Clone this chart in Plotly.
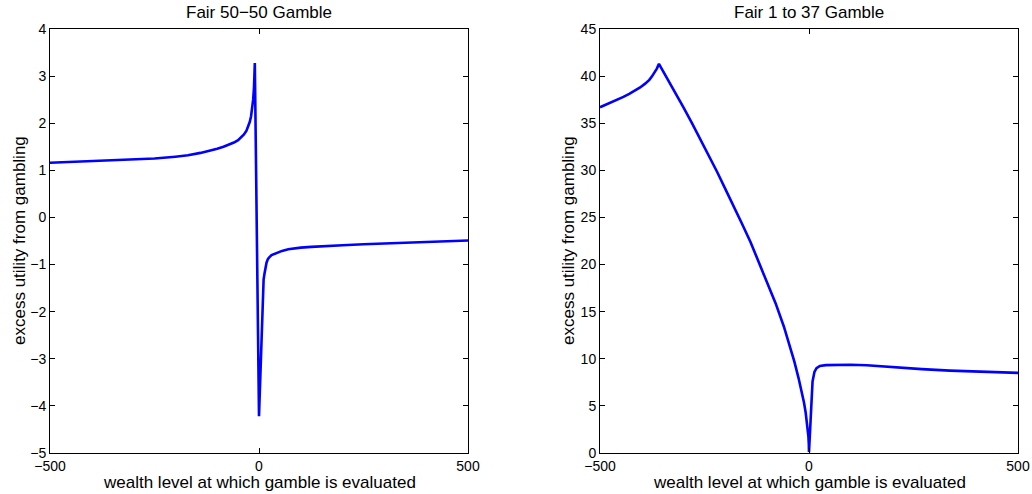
import plotly.graph_objects as go

# Left panel: Fair 50-50 gamble
x_left = [-500, -450, -400, -350, -300, -250, -200, -170, -140, -120, -100, -85, -70, -60, -50, -42, -36, -30, -26, -22,
          -19, -16, -14, -12, -11, -10,
          0, 9, 11, 13, 15, 18, 21, 24, 30, 40, 55, 70, 85, 100, 125, 150, 200, 250, 300, 350, 400, 450, 500]
y_left = [1.16, 1.175, 1.19, 1.205, 1.225, 1.25, 1.29, 1.32, 1.37, 1.41, 1.46, 1.50, 1.55, 1.59, 1.64, 1.70, 1.76, 1.84, 1.92, 2.03,
          2.15, 2.32, 2.50, 2.75, 2.95, 3.28,
          -4.22, -1.47, -1.32, -1.20, -1.08, -0.96, -0.89, -0.85, -0.80, -0.76, -0.71, -0.675, -0.655, -0.64, -0.625, -0.61, -0.59, -0.57, -0.55, -0.535, -0.52, -0.505, -0.49]

# Right panel: Fair 1 to 37 gamble
x_right = [-500, -480, -460, -444, -430, -416, -404, -392, -382, -376, -370, -364, -359,
           -340, -320, -300, -280, -260, -240, -220, -200, -180, -160, -140, -120, -100, -80, -60, -45, -35, -25, -18,
           -12, -8, -5, -3, -1.5, -0.5, 0,
           8.5, 10.5, 13, 18, 26, 40, 66, 100, 138, 170, 202, 270, 337, 420, 500]
y_right = [36.7, 37.08, 37.48, 37.8, 38.12, 38.47, 38.8, 39.2, 39.6, 39.95, 40.35, 40.8, 41.3,
           39.85, 38.25, 36.65, 35.0, 33.3, 31.6, 29.85, 28.0, 26.2, 24.3, 22.4, 20.3, 18.2, 15.9, 13.4, 11.3, 9.7, 7.95, 6.6,
           5.35, 4.3, 3.35, 2.55, 1.8, 1.0, 0.1,
           7.6, 8.2, 8.6, 9.0, 9.24, 9.33, 9.37, 9.36, 9.31, 9.2, 9.06, 8.9, 8.74, 8.6, 8.5]

titles = ["Fair 50\u221250 Gamble", "Fair 1 to 37 Gamble"]
x_label = "wealth level at which gamble is evaluated"
y_label = "excess utility from gambling"
x_ticks = [-500, 0, 500]
y_ticks_left = [-5, -4, -3, -2, -1, 0, 1, 2, 3, 4]
y_ticks_right = [0, 5, 10, 15, 20, 25, 30, 35, 40, 45]

W, H = 1032, 494
FONT = "Liberation Sans, Arial, Helvetica, sans-serif"

fig = go.Figure()
fig.add_trace(go.Scatter(x=x_left, y=y_left, mode="lines", line=dict(color="#0000FF", width=2.6),
                         xaxis="x", yaxis="y", showlegend=False))
fig.add_trace(go.Scatter(x=x_right, y=y_right, mode="lines", line=dict(color="#0000FF", width=2.6),
                         xaxis="x2", yaxis="y2", showlegend=False))

ydom = [(H - 453) / H, (H - 29) / H]
dom1 = [50 / W, 468 / W]
dom2 = [600 / W, 1018 / W]

axcommon = dict(showgrid=False, zeroline=False, showline=True, linecolor="black", linewidth=1,
                mirror="ticks", ticks="inside", ticklen=5, tickcolor="black", tickwidth=1,
                tickfont=dict(family=FONT, size=14, color="black"), automargin=False)

fig.update_layout(
    width=W, height=H, autosize=False,
    margin=dict(l=0, r=0, t=0, b=0),
    paper_bgcolor="white", plot_bgcolor="white",
    xaxis=dict(domain=dom1, range=[-500, 500], tickvals=x_ticks, anchor="y", **axcommon),
    yaxis=dict(domain=ydom, range=[-5, 4], tickvals=y_ticks_left, anchor="x", **axcommon),
    xaxis2=dict(domain=dom2, range=[-500, 500], tickvals=x_ticks, anchor="y2", **axcommon),
    yaxis2=dict(domain=ydom, range=[0, 45], tickvals=y_ticks_right, anchor="x2", **axcommon),
)

ann_font = dict(family=FONT, size=17, color="black")
for dom, t in zip([dom1, dom2], titles):
    cx = (dom[0] + dom[1]) / 2
    fig.add_annotation(text=t, x=cx, y=1 - 13 / H, xref="paper", yref="paper", showarrow=False,
                       xanchor="center", yanchor="middle", font=ann_font)
    fig.add_annotation(text=x_label, x=cx, y=1 - 482 / H, xref="paper", yref="paper", showarrow=False,
                       xanchor="center", yanchor="middle", font=ann_font)

for px in [19, 568]:
    fig.add_annotation(text=y_label, x=px / W, y=1 - 241 / H, xref="paper", yref="paper", showarrow=False,
                       xanchor="center", yanchor="middle", textangle=-90, font=ann_font)

fig.write_html("out.html", config={"displayModeBar": False},
               post_script="document.body.style.margin='0px';document.body.style.padding='0px';"
                           "document.body.style.overflow='hidden';")
